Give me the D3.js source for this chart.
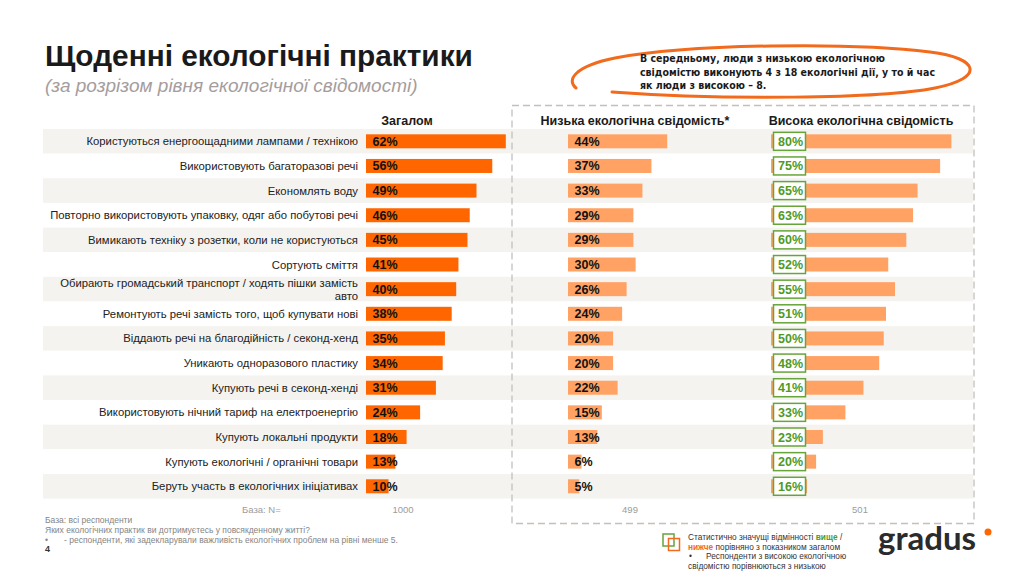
<!DOCTYPE html>
<html>
<head>
<meta charset="utf-8">
<script src="https://cdn.jsdelivr.net/npm/d3@7"></script>
<style>
  body { margin: 0; background: #fff; }
  svg { display: block; font-family: "Liberation Sans", Arial, sans-serif; }
</style>
</head>
<body>
<div id="chart"></div>
<script>
var categories = [
  "Користуються енергоощадними лампами / технікою",
  "Використовують багаторазові речі",
  "Економлять воду",
  "Повторно використовують упаковку, одяг або побутові речі",
  "Вимикають техніку з розетки, коли не користуються",
  "Сортують сміття",
  "Обирають громадський транспорт / ходять пішки замість авто",
  "Ремонтують речі замість того, щоб купувати нові",
  "Віддають речі на благодійність / секонд-хенд",
  "Уникають одноразового пластику",
  "Купують речі в секонд-хенді",
  "Використовують нічний тариф на електроенергію",
  "Купують локальні продукти",
  "Купують екологічні / органічні товари",
  "Беруть участь в екологічних ініціативах"
];
var totalValues = [62, 56, 49, 46, 45, 41, 40, 38, 35, 34, 31, 24, 18, 13, 10];
var lowValues   = [44, 37, 33, 29, 29, 30, 26, 24, 20, 20, 22, 15, 13, 6, 5];
var highValues  = [80, 75, 65, 63, 60, 52, 55, 51, 50, 48, 41, 33, 23, 20, 16];
var highSignificant = [true, true, true, true, true, true, true, true, true, true, true, true, true, true, true];
var columnNames = ["Загалом", "Низька екологічна свідомість*", "Висока екологічна свідомість"];
var baseSizes = [1000, 499, 501];

var W = 1024, H = 576;
var svg = d3.select("#chart").append("svg")
  .attr("width", W)
  .attr("height", H);

// title
svg.append("text")
  .attr("x", 45).attr("y", 66)
  .attr("font-size", 29.8).attr("font-weight", "bold").attr("fill", "#1a1a1a")
  .text("Щоденні екологічні практики");
svg.append("text")
  .attr("x", 45).attr("y", 92)
  .attr("font-size", 19).attr("font-style", "italic").attr("fill", "#a59d9d")
  .text("(за розрізом рівня екологічної свідомості)");

// scales
var y = d3.scaleBand().domain(categories).range([129, 129 + categories.length * 24.64]);
var x = d3.scaleLinear().domain([0, 100]).range([0, 225.5]);
var colX = [366, 568, 771];
var colCenter = [407, 635, 861];

var rows = svg.append("g").attr("class", "rows");
rows.selectAll("rect.band")
  .data(categories)
  .enter().append("rect")
  .attr("class", "band")
  .attr("x", 43)
  .attr("y", function(d) { return y(d); })
  .attr("width", 973 - 43)
  .attr("height", y.bandwidth())
  .attr("fill", function(d, i) { return i % 2 == 0 ? "#f4f3f0" : "#fff"; });

// category labels (wrap the long one)
rows.selectAll("text.cat")
  .data(categories)
  .enter().append("text")
  .attr("class", "cat")
  .attr("x", 358)
  .attr("text-anchor", "end")
  .attr("font-size", 11.3)
  .attr("fill", "#222")
  .each(function(d) {
    var t = d3.select(this);
    var cy = y(d) + y.bandwidth() / 2;
    var lines = d.length > 56 ? [d.slice(0, d.lastIndexOf(" ")), d.slice(d.lastIndexOf(" ") + 1)] : [d];
    lines.forEach(function(l, k) {
      t.append("tspan")
        .attr("x", 358)
        .attr("y", cy + 4 + (k - (lines.length - 1) / 2) * 13)
        .text(l);
    });
  });

// column headers
svg.selectAll("text.head")
  .data(columnNames)
  .enter().append("text")
  .attr("class", "head")
  .attr("x", function(d, i) { return colCenter[i]; })
  .attr("y", 125)
  .attr("text-anchor", "middle")
  .attr("font-size", 12.5)
  .attr("font-weight", "bold")
  .attr("fill", "#1a1a1a")
  .text(function(d) { return d; });

var series = [
  { values: totalValues, color: "#ff6600" },
  { values: lowValues, color: "#ffa264" },
  { values: highValues, color: "#ffa264", sig: highSignificant }
];

series.forEach(function(s, si) {
  var g = svg.append("g").attr("transform", "translate(" + colX[si] + ",0)");
  g.selectAll("rect.bar")
    .data(s.values)
    .enter().append("rect")
    .attr("class", "bar")
    .attr("x", 0)
    .attr("y", function(d, i) { return y(categories[i]) + y.bandwidth() / 2 - 7; })
    .attr("width", function(d) { return x(d); })
    .attr("height", 14)
    .attr("fill", s.color);

  if (s.sig) {
    g.selectAll("rect.sig")
      .data(s.values)
      .enter().append("rect")
      .attr("class", "sig")
      .attr("x", 2.5)
      .attr("y", function(d, i) { return y(categories[i]) + y.bandwidth() / 2 - 9; })
      .attr("width", 32)
      .attr("height", 18)
      .attr("fill", "#fff")
      .attr("stroke", function(d, i) { return s.sig[i] ? "#66a53a" : "none"; })
      .attr("stroke-width", 1.5);
  }

  g.selectAll("text.val")
    .data(s.values)
    .enter().append("text")
    .attr("class", "val")
    .attr("x", s.sig ? 7 : 6.5)
    .attr("y", function(d, i) { return y(categories[i]) + y.bandwidth() / 2 + 4.5; })
    .attr("font-size", 12.5)
    .attr("font-weight", "bold")
    .attr("fill", function(d, i) { return s.sig && s.sig[i] ? "#4f9a26" : "#111"; })
    .text(function(d) { return d + "%"; });
});

// base row
svg.append("text")
  .attr("x", 242).attr("y", 513)
  .attr("font-size", 9.5).attr("fill", "#9c9c9c")
  .text("База: N=");
svg.selectAll("text.base")
  .data(baseSizes)
  .enter().append("text")
  .attr("class", "base")
  .attr("x", function(d, i) { return [403, 630, 860][i]; })
  .attr("y", 513)
  .attr("text-anchor", "middle")
  .attr("font-size", 9.5)
  .attr("fill", "#9c9c9c")
  .text(function(d) { return d; });

// dashed frame round the two segments
svg.append("rect")
  .attr("x", 512).attr("y", 105.5)
  .attr("width", 462).attr("height", 418)
  .attr("fill", "none")
  .attr("stroke", "#c2c0bd")
  .attr("stroke-width", 1.3)
  .attr("stroke-dasharray", "7,4");

// callout
var p = d3.path();
p.moveTo(612, 92);
p.bezierCurveTo(720, 100, 880, 99, 935, 88);
p.bezierCurveTo(985, 78, 980, 58, 930, 52);
p.bezierCurveTo(850, 42, 690, 44, 615, 58);
p.bezierCurveTo(575, 66, 566, 80, 576, 88);
svg.append("path")
  .attr("d", p.toString())
  .attr("fill", "none")
  .attr("stroke", "#f26a1c")
  .attr("stroke-width", 3)
  .attr("stroke-linecap", "round");

var callout = ["В середньому,  люди з низькою екологічною",
  "свідомістю виконують 4 з 18 екологічні дії, у то й час",
  "як люди з високою – 8."];
svg.selectAll("text.callout")
  .data(callout)
  .enter().append("text")
  .attr("class", "callout")
  .attr("x", 640)
  .attr("y", function(d, i) { return 62 + i * 13.5; })
  .attr("font-family", "'DejaVu Sans Condensed', sans-serif")
  .attr("font-size", 10.5)
  .attr("font-weight", "bold")
  .attr("fill", "#1a1a1a")
  .text(function(d) { return d; });

// footnotes
var notes = svg.append("g").attr("font-size", 8.5).attr("fill", "#858585");
notes.append("text").attr("x", 45).attr("y", 523).text("База: всі респонденти");
notes.append("text").attr("x", 45).attr("y", 533).text("Яких екологічних практик ви дотримуєтесь у повсякденному житті?");
notes.append("text").attr("x", 45).attr("y", 543).text("•");
notes.append("text").attr("x", 64).attr("y", 543).text("- респонденти, які задекларували важливість екологічних проблем на рівні менше 5.");
svg.append("text").attr("x", 45).attr("y", 552)
  .attr("font-size", 9).attr("font-weight", "bold").attr("fill", "#333").text("4");

// legend
svg.append("rect").attr("x", 663).attr("y", 534).attr("width", 11).attr("height", 12)
  .attr("fill", "none").attr("stroke", "#66a53a").attr("stroke-width", 1.5);
svg.append("rect").attr("x", 668.5).attr("y", 538.5).attr("width", 11).attr("height", 12)
  .attr("fill", "none").attr("stroke", "#f26a1c").attr("stroke-width", 1.5);
var leg = svg.append("g").attr("font-size", 8.3).attr("fill", "#333");
var l1 = leg.append("text").attr("x", 688).attr("y", 540);
l1.append("tspan").text("Статистично значущі відмінності ");
l1.append("tspan").attr("fill", "#4f9a26").attr("font-weight", "bold").text("вище");
l1.append("tspan").text(" /");
var l2 = leg.append("text").attr("x", 688).attr("y", 549.5);
l2.append("tspan").attr("fill", "#f26a1c").attr("font-weight", "bold").text("нижче");
l2.append("tspan").text(" порівняно з показником загалом");
leg.append("text").attr("x", 689).attr("y", 559).text("•");
leg.append("text").attr("x", 706).attr("y", 559).text("Респонденти з високою екологічною");
leg.append("text").attr("x", 688).attr("y", 568.5).text("свідомістю порівнюються з низькою");

// logo
svg.append("text")
  .attr("x", 878).attr("y", 550)
  .attr("font-family", "Lato, sans-serif")
  .attr("font-size", 33)
  .attr("font-weight", "bold")
  .attr("fill", "#2b2b2b")
  .text("gradus");
svg.append("circle").attr("cx", 988).attr("cy", 532).attr("r", 3.5).attr("fill", "#ff6600");
</script>
</body>
</html>
